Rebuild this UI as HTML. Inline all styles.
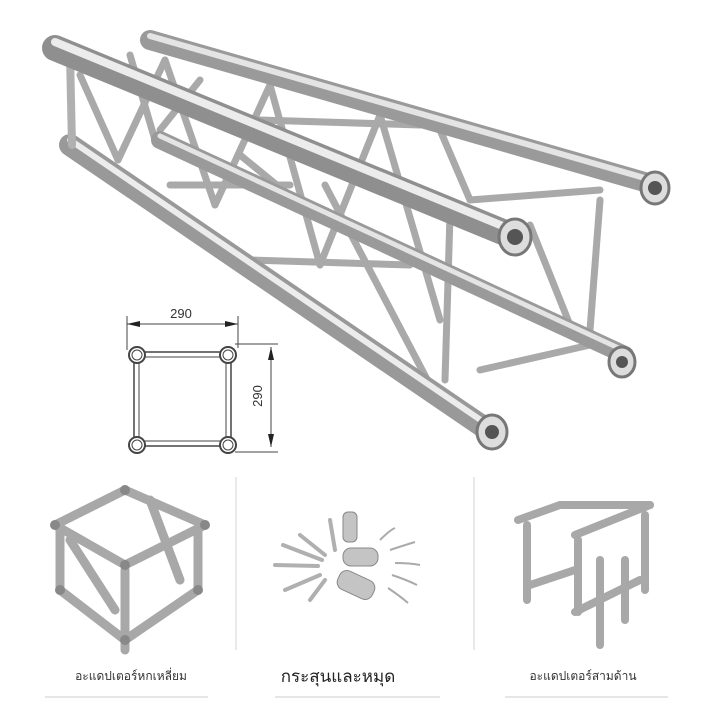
<!DOCTYPE html>
<html><head><meta charset="utf-8"><style>
html,body{margin:0;padding:0;background:#fff;}
svg{display:block;}
text{font-family:"Liberation Sans","Noto Sans CJK SC",sans-serif;}
.th{font-family:"Liberation Sans","Noto Sans CJK SC","WenQuanYi Zen Hei",sans-serif;}
</style></head><body>
<svg width="720" height="720" viewBox="0 0 720 720" xmlns="http://www.w3.org/2000/svg">
<rect width="720" height="720" fill="#fff"/>
<g stroke="#a9a9a9" stroke-width="7" stroke-linecap="round" fill="none">
<line x1="80" y1="75" x2="118" y2="160"/><line x1="118" y1="160" x2="165" y2="60"/>
<line x1="165" y1="60" x2="215" y2="205"/><line x1="215" y1="205" x2="270" y2="85"/>
<line x1="270" y1="85" x2="320" y2="265"/><line x1="320" y1="265" x2="380" y2="115"/>
<line x1="325" y1="185" x2="430" y2="385"/><line x1="240" y1="155" x2="295" y2="200"/>
<line x1="380" y1="115" x2="440" y2="320"/><line x1="440" y1="130" x2="470" y2="200"/>
<line x1="450" y1="215" x2="445" y2="380"/><line x1="600" y1="200" x2="590" y2="330"/>
<line x1="530" y1="225" x2="570" y2="325"/><line x1="470" y1="200" x2="600" y2="190"/>
<line x1="160" y1="130" x2="200" y2="80"/><line x1="130" y1="55" x2="155" y2="140"/>
<line x1="250" y1="260" x2="410" y2="265"/><line x1="480" y1="370" x2="590" y2="345"/>
<line x1="170" y1="185" x2="290" y2="185"/><line x1="260" y1="120" x2="420" y2="125"/>
</g>
<g stroke-linecap="round" fill="none">
<line x1="150" y1="40" x2="655" y2="185" stroke="#9a9a9a" stroke-width="20"/>
<line x1="150" y1="36" x2="655" y2="181" stroke="#e4e4e4" stroke-width="6"/>
<line x1="160" y1="140" x2="625" y2="355" stroke="#9a9a9a" stroke-width="18"/>
<line x1="160" y1="136" x2="625" y2="351" stroke="#e4e4e4" stroke-width="5"/>
<line x1="70" y1="145" x2="485" y2="428" stroke="#999" stroke-width="22"/>
<line x1="70" y1="140" x2="485" y2="423" stroke="#ececec" stroke-width="6"/>
<line x1="70" y1="55" x2="72" y2="145" stroke="#b0b0b0" stroke-width="8"/>
<line x1="55" y1="48" x2="510" y2="235" stroke="#8f8f8f" stroke-width="26"/>
<line x1="55" y1="42" x2="510" y2="229" stroke="#ececec" stroke-width="8"/>
</g>
<g stroke="#777" stroke-width="3" fill="#ddd">
<ellipse cx="515" cy="237" rx="16" ry="18"/><ellipse cx="655" cy="188" rx="14" ry="16"/>
<ellipse cx="622" cy="362" rx="13" ry="15"/><ellipse cx="492" cy="432" rx="15" ry="17"/>
</g>
<g fill="#555"><circle cx="515" cy="237" r="8"/><circle cx="655" cy="188" r="7"/><circle cx="622" cy="362" r="6"/><circle cx="492" cy="432" r="7"/></g>
<g stroke="#444" fill="none" stroke-width="1">
<line x1="127" y1="324" x2="238" y2="324"/><line x1="127" y1="316" x2="127" y2="350"/><line x1="238" y1="316" x2="238" y2="348"/>
<line x1="271" y1="347" x2="271" y2="447"/><line x1="235" y1="344" x2="278" y2="344"/><line x1="235" y1="452" x2="278" y2="452"/>
<rect x="134" y="352" width="97" height="94" stroke-width="1.5"/>
<rect x="139" y="357" width="87" height="84"/>
<g stroke-width="2" fill="#fff"><circle cx="137" cy="355" r="8"/><circle cx="228" cy="355" r="8"/><circle cx="137" cy="445" r="8"/><circle cx="228" cy="445" r="8"/></g>
<g><circle cx="137" cy="355" r="5"/><circle cx="228" cy="355" r="5"/><circle cx="137" cy="445" r="5"/><circle cx="228" cy="445" r="5"/></g>
</g>
<g fill="#222"><polygon points="127,324 140,321 140,327"/><polygon points="238,324 225,321 225,327"/>
<polygon points="271,347 268,360 274,360"/><polygon points="271,447 268,434 274,434"/></g>
<text x="181" y="318" font-size="13" text-anchor="middle" fill="#333">290</text>
<text x="262" y="396" font-size="13" text-anchor="middle" fill="#333" transform="rotate(-90 262 396)">290</text>
<line x1="236" y1="477" x2="236" y2="650" stroke="#e2e2e2" stroke-width="1.5"/>
<line x1="474" y1="477" x2="474" y2="650" stroke="#e2e2e2" stroke-width="1.5"/>
<!-- hex adapter cube -->
<g stroke="#a8a8a8" stroke-width="9" stroke-linecap="round" fill="none">
<line x1="55" y1="525" x2="125" y2="490"/><line x1="125" y1="490" x2="205" y2="525"/><line x1="55" y1="525" x2="125" y2="565"/><line x1="125" y1="565" x2="205" y2="525"/>
<line x1="60" y1="530" x2="60" y2="590"/><line x1="125" y1="570" x2="125" y2="650"/><line x1="198" y1="530" x2="198" y2="590"/>
<line x1="60" y1="590" x2="125" y2="640"/><line x1="198" y1="590" x2="125" y2="640"/><line x1="70" y1="540" x2="115" y2="610"/><line x1="150" y1="500" x2="180" y2="580"/>
</g>
<g fill="#888"><circle cx="125" cy="490" r="5"/><circle cx="55" cy="525" r="5"/><circle cx="205" cy="525" r="5"/><circle cx="125" cy="565" r="5"/><circle cx="60" cy="590" r="5"/><circle cx="198" cy="590" r="5"/><circle cx="125" cy="640" r="5"/></g>
<g stroke="#b0b0b0" stroke-width="4" stroke-linecap="round">
<line x1="275" y1="565" x2="318" y2="566"/><line x1="283" y1="545" x2="322" y2="560"/><line x1="300" y1="535" x2="325" y2="555"/>
<line x1="285" y1="590" x2="320" y2="575"/><line x1="310" y1="600" x2="325" y2="580"/><line x1="330" y1="520" x2="335" y2="550"/>
</g>
<g fill="#c4c4c4" stroke="#888"><rect x="343" y="512" width="14" height="30" rx="5"/><rect x="343" y="548" width="35" height="18" rx="8"/><rect x="337" y="575" width="38" height="20" rx="8" transform="rotate(25 356 585)"/></g>
<g stroke="#aaa" stroke-width="2" fill="none">
<path d="M380 540 q10 -10 15 -12"/><path d="M390 550 q15 -5 25 -8"/><path d="M395 563 q15 0 25 2"/><path d="M392 575 q15 5 25 10"/><path d="M388 588 q12 8 20 15"/>
</g>
<g stroke="#a8a8a8" stroke-width="8" stroke-linecap="round" fill="none">
<line x1="518" y1="520" x2="560" y2="505"/><line x1="560" y1="505" x2="650" y2="505"/><line x1="575" y1="535" x2="650" y2="505"/>
<line x1="527" y1="525" x2="527" y2="600"/><line x1="578" y1="540" x2="578" y2="612"/><line x1="645" y1="515" x2="645" y2="590"/>
<line x1="530" y1="585" x2="575" y2="570"/><line x1="575" y1="612" x2="640" y2="580"/><line x1="600" y1="560" x2="600" y2="645"/><line x1="625" y1="560" x2="625" y2="620"/>
</g>
<text x="131" y="680" class="th" font-size="12" text-anchor="middle" fill="#333">อะแดปเตอร์หกเหลี่ยม</text>
<text x="338" y="682" class="th" font-size="17" text-anchor="middle" fill="#222">กระสุนและหมุด</text>
<text x="583" y="680" class="th" font-size="12" text-anchor="middle" fill="#333">อะแดปเตอร์สามด้าน</text>
<g stroke="#e6e6e6" stroke-width="2"><line x1="45" y1="697" x2="208" y2="697"/><line x1="275" y1="697" x2="440" y2="697"/><line x1="505" y1="697" x2="668" y2="697"/></g>
</svg>
</body></html>
